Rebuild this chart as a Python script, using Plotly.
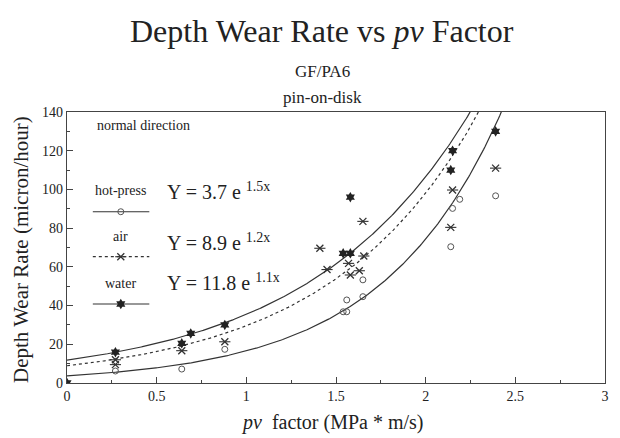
import numpy as np
import plotly.graph_objects as go

# ---- data ----
water_x = [0.0, 0.27, 0.64, 0.69, 0.88, 1.54, 1.58, 1.58, 2.14, 2.15, 2.39]
water_y = [0.0, 15.9, 20.5, 25.6, 30.0, 67.0, 67.0, 96.0, 110.0, 120.0, 130.0]

air_x = [0.27, 0.27, 0.64, 0.88, 1.41, 1.45, 1.57, 1.58, 1.63, 1.655, 1.65, 2.14, 2.15, 2.39]
air_y = [12.0, 9.5, 16.7, 21.3, 69.6, 58.6, 61.8, 55.8, 58.0, 65.6, 83.5, 80.4, 99.7, 111.0]

hp_x = [0.27, 0.64, 0.88, 1.54, 1.56, 1.56, 1.65, 1.65, 2.14, 2.15, 2.19, 2.39]
hp_y = [6.2, 7.2, 17.4, 36.8, 36.8, 42.9, 44.6, 53.3, 70.4, 90.2, 94.9, 96.7]

fit_names = ["hot-press", "air", "water"]
fit_a = [3.7, 8.9, 11.8]
fit_b = [1.5, 1.2, 1.1]

x_ticks = [0, 0.5, 1, 1.5, 2, 2.5, 3]
x_tick_text = ["0", "0.5", "1", "1.5", "2", "2.5", "3"]
y_ticks = [0, 20, 40, 60, 80, 100, 120, 140]

FONT = "Liberation Serif, Times New Roman, serif"
INK = "#222222"
DOT = "3px,3px"

fig = go.Figure()

xs = np.linspace(0, 3, 400)
dashes = ["solid", DOT, "solid"]
for a, b, d in zip(fit_a, fit_b, dashes):
    fig.add_trace(go.Scatter(x=xs, y=a * np.exp(b * xs), mode="lines",
                             line=dict(color="#333333", width=1.2, dash=d),
                             hoverinfo="skip", showlegend=False))

HP_M = dict(symbol="circle-open", size=6, color="#555555", line=dict(width=1))
AIR_X = dict(symbol="x-thin-open", size=7, color="#333333", line=dict(width=1.3, color="#333333"))
AIR_H = dict(symbol="line-ew-open", size=8, color="#333333", line=dict(width=1.1, color="#333333"))
WAT_M = dict(symbol="hexagram", size=8, color="#222222", line=dict(width=0))

fig.add_trace(go.Scatter(x=hp_x, y=hp_y, mode="markers", name="hot-press", marker=HP_M, showlegend=False))
fig.add_trace(go.Scatter(x=air_x, y=air_y, mode="markers", name="air", marker=AIR_X, showlegend=False))
fig.add_trace(go.Scatter(x=air_x, y=air_y, mode="markers", name="air", marker=AIR_H, showlegend=False,
                         hoverinfo="skip"))
fig.add_trace(go.Scatter(x=water_x, y=water_y, mode="markers", name="water", marker=WAT_M, showlegend=False))

# ---- custom legend key (overlay axes spanning the plot area 0..1) ----
key_y = [0.632, 0.466, 0.2915]
key_sym = [[HP_M], [AIR_X, AIR_H], [WAT_M]]
for ky, d, syms in zip(key_y, dashes, key_sym):
    fig.add_trace(go.Scatter(x=[0.048, 0.153], y=[ky, ky], mode="lines", xaxis="x2", yaxis="y2",
                             line=dict(color="#333333", width=1.2, dash=d),
                             hoverinfo="skip", showlegend=False))
    for sym in syms:
        fig.add_trace(go.Scatter(x=[0.10], y=[ky], mode="markers", xaxis="x2", yaxis="y2",
                                 marker=sym, hoverinfo="skip", showlegend=False))

ann = []
label_y = [0.7096, 0.54, 0.368]
eq_y = [0.71, 0.522, 0.374]
for name, a, b, ly, ey in zip(fit_names, fit_a, fit_b, label_y, eq_y):
    ann.append(dict(text=name, x=0.099, y=ly, xref="paper", yref="paper", showarrow=False,
                    xanchor="center", yanchor="middle", font=dict(family=FONT, size=14, color=INK)))
    ann.append(dict(text=f"Y = {a} e <sup>{b}x</sup>", x=0.183, y=ey, xref="paper", yref="paper",
                    showarrow=False, xanchor="left", yanchor="middle",
                    font=dict(family=FONT, size=20, color=INK)))

ann.append(dict(text="normal direction", x=0.052, y=0.952, xref="paper", yref="paper", showarrow=False,
                xanchor="left", yanchor="middle", font=dict(family=FONT, size=14, color=INK)))

# titles
ann.append(dict(text="Depth Wear Rate vs <i>pv</i> Factor", x=0.474, y=1.30, xref="paper", yref="paper",
                showarrow=False, xanchor="center", yanchor="middle", font=dict(family=FONT, size=32, color=INK)))
ann.append(dict(text="GF/PA6", x=0.474, y=1.151, xref="paper", yref="paper",
                showarrow=False, xanchor="center", yanchor="middle", font=dict(family=FONT, size=17, color=INK)))
ann.append(dict(text="pin-on-disk", x=0.474, y=1.052, xref="paper", yref="paper",
                showarrow=False, xanchor="center", yanchor="middle", font=dict(family=FONT, size=17, color=INK)))
# axis titles
ann.append(dict(text="<i>pv</i>  factor (MPa * m/s)", x=0.4926, y=-0.1476, xref="paper", yref="paper",
                showarrow=False, xanchor="center", yanchor="middle", font=dict(family=FONT, size=20, color=INK)))
ann.append(dict(text="Depth Wear Rate (micron/hour)", x=-0.0867, y=0.492, xref="paper", yref="paper",
                textangle=-90, showarrow=False, xanchor="center", yanchor="middle",
                font=dict(family=FONT, size=21, color=INK)))

fig.update_layout(
    width=620, height=438,
    margin=dict(l=67, r=11, t=112, b=55),
    paper_bgcolor="white", plot_bgcolor="white",
    font=dict(family=FONT, color=INK),
    annotations=ann,
    xaxis=dict(range=[0, 3], tickvals=x_ticks, ticktext=x_tick_text, ticks="inside", ticklen=6,
               tickcolor="#444444", showline=True, linecolor="#444444", linewidth=1.2, mirror=True,
               showgrid=False, zeroline=False, tickfont=dict(family=FONT, size=14, color=INK),
               minor=dict(dtick=0.25, ticks="inside", ticklen=3, tickcolor="#444444")),
    yaxis=dict(range=[0, 140], tickvals=y_ticks, ticks="inside", ticklen=6,
               tickcolor="#444444", showline=True, linecolor="#444444", linewidth=1.2, mirror=True,
               showgrid=False, zeroline=False, tickfont=dict(family=FONT, size=14, color=INK),
               minor=dict(dtick=10, ticks="inside", ticklen=3, tickcolor="#444444")),
    xaxis2=dict(range=[0, 1], overlaying="x", visible=False, fixedrange=True),
    yaxis2=dict(range=[0, 1], overlaying="y", visible=False, fixedrange=True),
)

fig.write_html("out.html")
